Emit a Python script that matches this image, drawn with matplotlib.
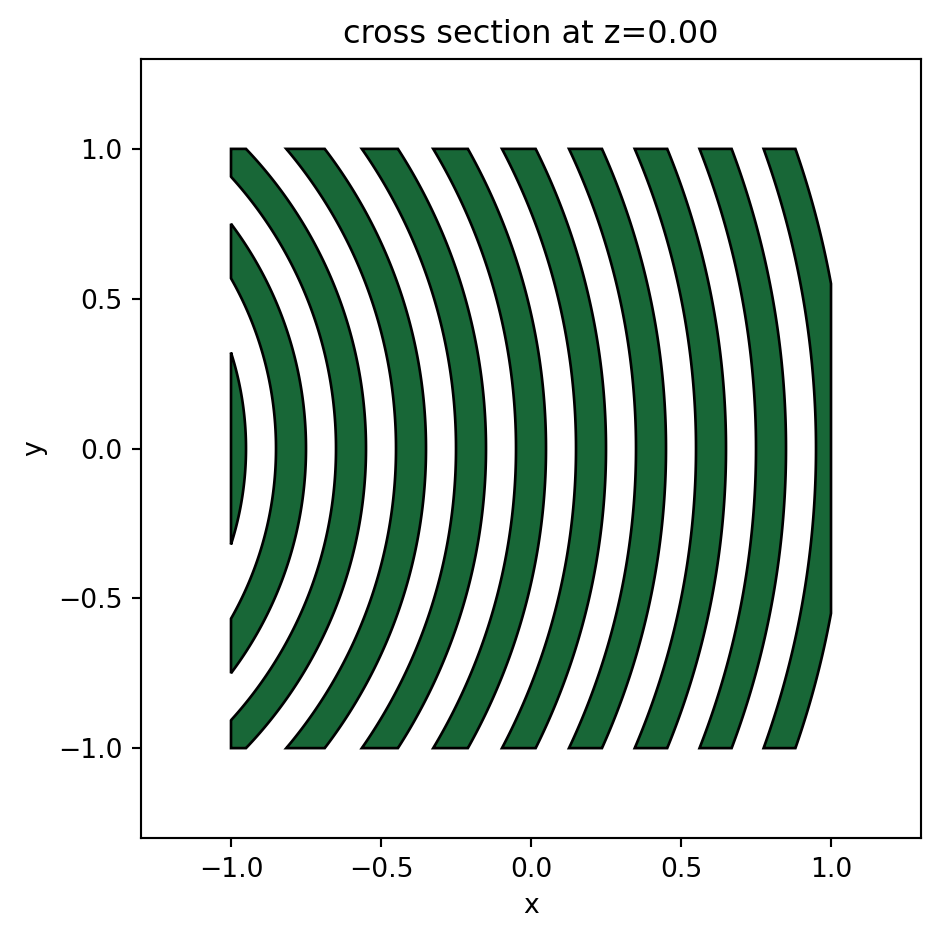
"""Cross section of concentric shells clipped to the unit box."""

import matplotlib

matplotlib.use("Agg")
import matplotlib.pyplot as plt
import numpy as np
from matplotlib.patches import Polygon

# shells are centred on (-2, 0)
CENTER_X = -2.0
INNER_RADII = [0.95, 1.15, 1.35, 1.55, 1.75, 1.95, 2.15, 2.35, 2.55, 2.75, 2.95]
OUTER_RADII = [1.05, 1.25, 1.45, 1.65, 1.85, 2.05, 2.25, 2.45, 2.65, 2.85, 3.05]
BOX = (-1.0, 1.0)
TICKS = [-1.0, -0.5, 0.0, 0.5, 1.0]
FILL_COLOR = "#186737"
DPI = 192


def shell_outline(r_in, r_out):
    # walk along y, taking x from each circle and clamping it to the box
    y_top = min(BOX[1], np.sqrt(r_out**2 - (BOX[0] - CENTER_X) ** 2))
    ys = np.linspace(-y_top, y_top, 801)
    right = np.sqrt(r_out**2 - ys**2) + CENTER_X
    left = np.sqrt(np.clip(r_in**2 - ys**2, 0, None)) + CENTER_X
    right = np.minimum(right, BOX[1])
    left = np.clip(left, BOX[0], BOX[1])
    return np.vstack(
        [np.column_stack([right, ys]), np.column_stack([left[::-1], ys[::-1]])]
    )


fig = plt.figure(figsize=(939 / DPI, 940 / DPI), dpi=DPI)
ax = fig.add_axes([141 / 939, 1 - 838 / 940, 780 / 939, 779 / 940])

for r_in, r_out in zip(INNER_RADII, OUTER_RADII):
    ax.add_patch(
        Polygon(
            shell_outline(r_in, r_out),
            closed=True,
            facecolor=FILL_COLOR,
            edgecolor="black",
            linewidth=1.0,
        )
    )

ax.set_xlim(-1.3, 1.3)
ax.set_ylim(-1.3, 1.3)
ax.set_xticks(TICKS)
ax.set_yticks(TICKS)
ax.set_xlabel("x")
ax.set_ylabel("y")
ax.set_title("cross section at z=0.00")
fig.savefig("out.png", dpi=DPI)
